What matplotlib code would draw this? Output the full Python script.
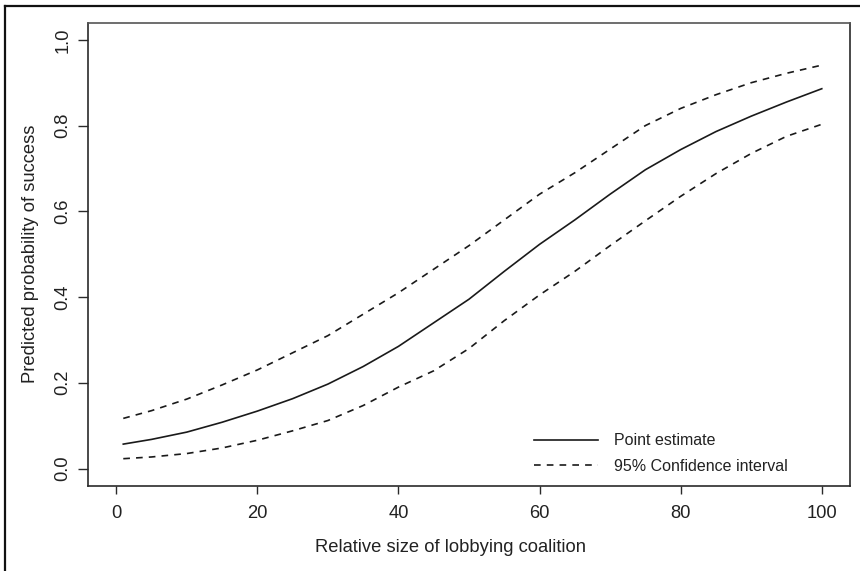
import matplotlib
matplotlib.use("Agg")
import matplotlib.pyplot as plt
from matplotlib.lines import Line2D

plt.rcParams['font.family'] = ['Liberation Sans', 'DejaVu Sans']
plt.rcParams['lines.scale_dashes'] = False

# Data
size = [1, 5, 10, 15, 20, 25, 30, 35, 40, 45, 50, 55, 60, 65, 70, 75, 80, 85, 90, 95, 100]
point_est = [0.057, 0.068, 0.085, 0.108, 0.134, 0.163, 0.197, 0.238, 0.285, 0.340, 0.395,
             0.460, 0.523, 0.580, 0.640, 0.697, 0.744, 0.786, 0.822, 0.855, 0.886]
ci_upper = [0.117, 0.135, 0.162, 0.195, 0.230, 0.270, 0.310, 0.360, 0.410, 0.465, 0.520,
            0.580, 0.640, 0.690, 0.745, 0.800, 0.840, 0.872, 0.900, 0.922, 0.941]
ci_lower = [0.023, 0.027, 0.035, 0.048, 0.066, 0.088, 0.112, 0.147, 0.190, 0.228, 0.280,
            0.345, 0.405, 0.460, 0.520, 0.578, 0.635, 0.688, 0.735, 0.775, 0.803]

x_ticks = [0, 20, 40, 60, 80, 100]
y_ticks = [0.0, 0.2, 0.4, 0.6, 0.8, 1.0]
y_ticklabels = ["0.0", "0.2", "0.4", "0.6", "0.8", "1.0"]

W, H = 860, 571
fig = plt.figure(figsize=(W / 100, H / 100), dpi=100)
ax = fig.add_axes([88 / W, 1 - 485.7 / H, (850 - 88) / W, (485.7 - 22.7) / H])

dash = (0, (4.8, 4.4))
ink = '#1a1a1a'
ax.plot(size, point_est, color=ink, lw=1.2, label='Point estimate')
ax.plot(size, ci_upper, color=ink, lw=1.2, linestyle=dash, label='95% Confidence interval')
ax.plot(size, ci_lower, color=ink, lw=1.2, linestyle=dash)

ax.set_xlim(-4, 104)
ax.set_ylim(-0.04, 1.04)
ax.set_xticks(x_ticks)
ax.set_xticklabels([str(v) for v in x_ticks])
ax.set_yticks(y_ticks)
ax.set_yticklabels(y_ticklabels, rotation=90, va='center')

for s in ax.spines.values():
    s.set_color('#2a2a2a')
    s.set_linewidth(1.2)
ax.spines['top'].set_color('#555555')

fs = 13.2
ax.tick_params(axis='x', length=6, width=1.0, color='#2a2a2a', pad=8, labelsize=fs, labelcolor='#222222')
ax.tick_params(axis='y', length=7, width=1.0, color='#2a2a2a', pad=5, labelsize=fs, labelcolor='#222222')

ax.set_xlabel('Relative size of lobbying coalition', fontsize=fs, color='#222222', labelpad=13)
ax.xaxis.set_label_coords((450.5 - 88) / 762, -0.115)
ax.set_ylabel('Predicted probability of success', fontsize=fs, color='#222222', labelpad=11)

leg = ax.legend(loc='lower right', frameon=False, fontsize=11.5, handlelength=4.0,
                handletextpad=1.0, labelspacing=0.65, bbox_to_anchor=(0.937, -0.005))
for t in leg.get_texts():
    t.set_color('#222222')

# outer frame (left and top edges)
fig.add_artist(Line2D([4.5 / W, 4.5 / W], [0, 1 - 6.3 / H], transform=fig.transFigure, color='#111111', lw=1.6))
fig.add_artist(Line2D([4.5 / W, 1], [1 - 6.3 / H, 1 - 6.3 / H], transform=fig.transFigure, color='#111111', lw=1.6))

fig.savefig('out.png', dpi=100, facecolor='white')
